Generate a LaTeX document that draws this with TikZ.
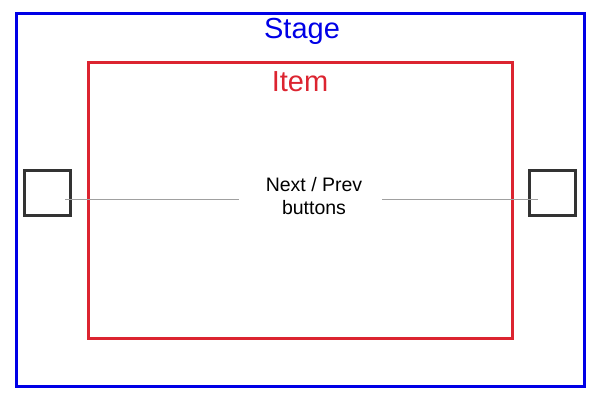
\documentclass[tikz,border=0pt]{standalone}
\usepackage{fontspec}
\setsansfont{Liberation Sans}
\usetikzlibrary{positioning}
\definecolor{stageblue}{HTML}{0000E6}
\definecolor{itemred}{HTML}{DC2430}
\definecolor{btnink}{HTML}{333333}
\definecolor{leadgrey}{HTML}{A0A0A0}

\begin{document}
\begin{tikzpicture}[x=1pt,y=-1pt,font=\sffamily,
  frame/.style={draw,line width=3pt,inner sep=0pt,outer sep=0pt},
  navbtn/.style={draw=btnink,line width=3pt,minimum width=46pt,minimum height=45pt,inner sep=0pt},
  lead/.style={leadgrey,line width=1pt},
  title/.style={font=\sffamily\fontsize{29}{29}\selectfont,anchor=base}]
  \useasboundingbox (0,0) rectangle (600,400);

  % outer stage and inner item
  \node[frame,draw=stageblue,minimum width=568pt,minimum height=373pt] (stage) at (300,200) {};
  \node[frame,draw=itemred,minimum width=424pt,minimum height=276pt] (item) at (300,200) {};
  \node[title,stageblue] (stagelbl) at (302,38) {Stage};
  \node[title,itemred] (itemlbl) at (300,91) {Item};

  % prev / next buttons
  \node[navbtn] (prevbtn) at (47,193) {};
  \node[navbtn] (nextbtn) at (552,193) {};
  \node[align=center,font=\sffamily\fontsize{19.5}{23}\selectfont] (btnlbl) at (314,196)
       {Next / Prev\\buttons};

  % leader lines
  \coordinate (prevtip) at (65,199);
  \coordinate (nexttip) at (538,199);
  \coordinate (lblleft) at (239,199);
  \coordinate (lblright) at (382,199);
  \draw[lead] (prevtip) -- (lblleft);
  \draw[lead] (lblright) -- (nexttip);
\end{tikzpicture}
\end{document}
